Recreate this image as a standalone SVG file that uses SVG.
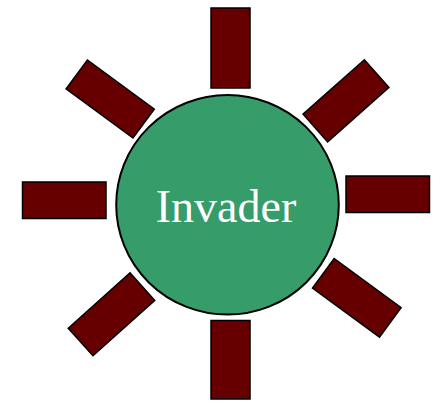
<svg xmlns="http://www.w3.org/2000/svg" width="441" height="404" viewBox="0 0 441 404">
<style>
.bar{fill:#660000;stroke:#000;stroke-width:1.5}
.body{fill:#359c6a;stroke:#000;stroke-width:2}
.lbl{font-family:"Liberation Serif",serif;font-size:46px;fill:#fff;text-anchor:middle}
</style>
<rect width="441" height="404" fill="#fff"/>
<g id="bars">
<rect class="bar" x="211" y="8" width="39" height="80"/>
<rect class="bar" x="211" y="320.5" width="39" height="78.5"/>
<rect class="bar" x="22.5" y="182" width="83.5" height="36.5"/>
<rect class="bar" x="346" y="176" width="83.5" height="36.5"/>
<rect class="bar" x="-41.5" y="-18" width="83" height="36" transform="translate(110.2,99) rotate(36.3)"/>
<rect class="bar" x="-41" y="-18.5" width="82" height="37" transform="translate(346,100.8) rotate(-41.6)"/>
<rect class="bar" x="-41.5" y="-18.5" width="83" height="37" transform="translate(111.5,314.3) rotate(-41.9)"/>
<rect class="bar" x="-41.5" y="-18.3" width="83" height="36.6" transform="translate(356.8,297.8) rotate(36.2)"/>
</g>
<g id="invader">
<ellipse class="body" cx="227.5" cy="204.8" rx="111.3" ry="109.8"/>
<text class="lbl" x="226" y="222">Invader</text>
</g>
</svg>
